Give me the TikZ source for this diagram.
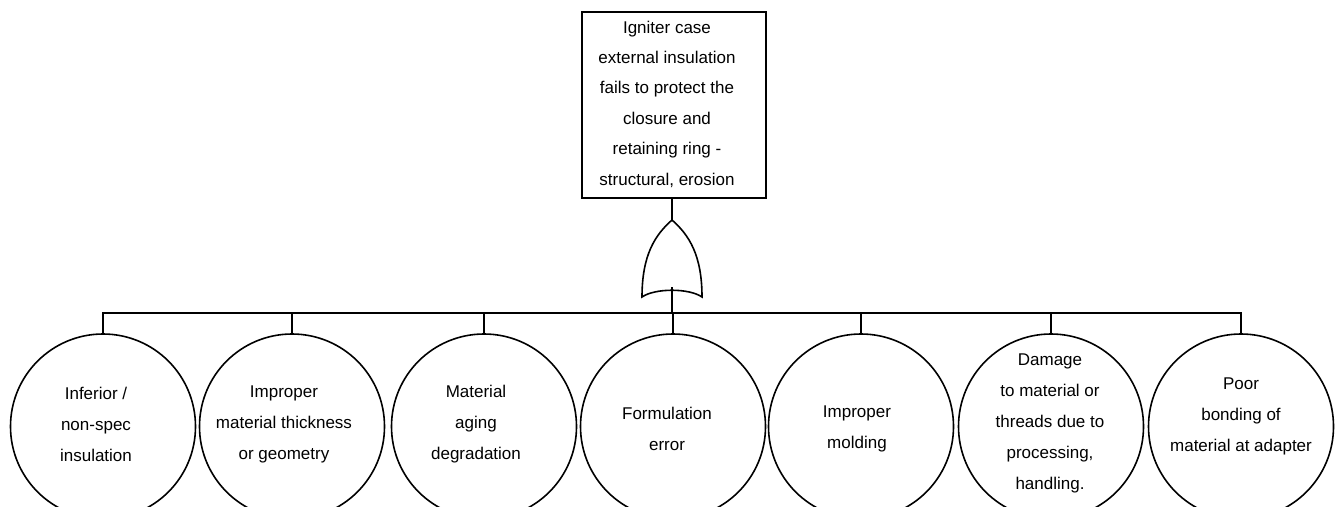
\documentclass[tikz,border=0pt]{standalone}
\usepackage{fontspec}
\setmainfont{Liberation Sans}
\begin{document}
\begin{tikzpicture}[x=1pt,y=-1pt,
  wire/.style={line width=1.6pt},
  event/.style={draw,line width=1.6pt,circle,minimum size=185pt,inner sep=0pt},
  etext/.style={inner sep=0pt,align=center,font=\fontsize{17}{31}\selectfont},
  topbox/.style={draw,line width=1.6pt,rectangle,minimum width=184pt,minimum height=186pt,inner sep=0pt},
  toptext/.style={inner sep=0pt,align=center,font=\fontsize{17}{30.4}\selectfont}]
\useasboundingbox (0,0) rectangle (1335,506);
\clip (0,0) rectangle (1335,506);
\node[topbox] (top) at (674,105) {};
\node[toptext] (toptxt) at (667,104) {Igniter case\\external insulation\\fails to protect the\\closure and\\retaining ring -\\structural, erosion};
\coordinate (gtop) at (672,220);
\coordinate (gbot) at (672,287);
\coordinate (bus) at (672,313);
\draw[wire] (top.south -| gtop) -- (gtop);
\draw[wire] (gtop) .. controls (655,235) and (642,255) .. (642,297)
  .. controls (655,288) and (689,288) .. (702,297)
  .. controls (702,255) and (689,235) .. (gtop);
\draw[wire] (gbot) -- (bus);
\node[event] (c1) at (103,426.5) {};
\node[event] (c2) at (292,426.5) {};
\node[event] (c3) at (484,426.5) {};
\node[event] (c4) at (673,426.5) {};
\node[event] (c5) at (861,426.5) {};
\node[event] (c6) at (1051,426.5) {};
\node[event] (c7) at (1241,426.5) {};
\node[etext] (t1) at (96,424) {Inferior /\\non-spec\\insulation};
\node[etext] (t2) at (284,424) {Improper\\material thickness\\or geometry};
\node[etext] (t3) at (476,424) {Material\\aging\\degradation};
\node[etext] (t4) at (667,429) {Formulation\\error};
\node[etext] (t5) at (857,429) {Improper\\molding};
\node[etext] (t6) at (1050,423) {Damage\\to material or\\threads due to\\processing,\\handling.};
\node[etext] (t7) at (1241,416) {Poor\\bonding of\\material at adapter};
\foreach \i in {1,...,7} {\draw[wire] (c\i.north) |- (bus);}
\end{tikzpicture}
\end{document}
